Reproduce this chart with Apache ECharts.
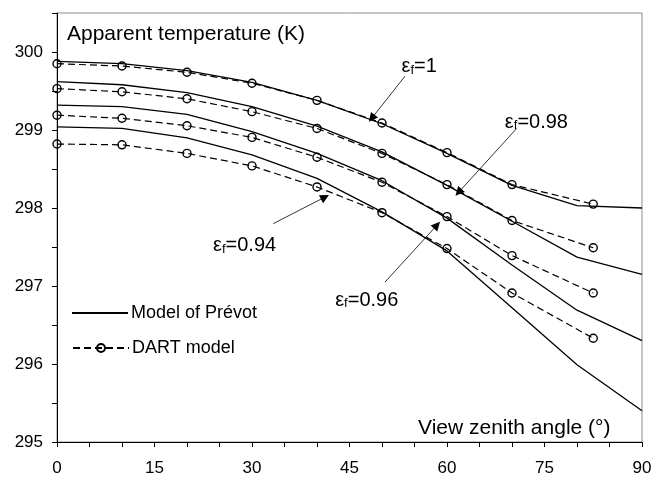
<!DOCTYPE html>
<html>
<head>
<meta charset="utf-8">
<script src="https://cdn.jsdelivr.net/npm/echarts@6/dist/echarts.min.js"></script>
<style>
  html, body { margin: 0; padding: 0; background: #fff; }
  #chart { width: 666px; height: 477px; }
</style>
</head>
<body>
<div id="chart"></div>
<script>
// View zenith angles (degrees)
const prevotAngles = [0, 10, 20, 30, 40, 50, 60, 70, 80, 90];
const dartAngles = [0, 10, 20, 30, 40, 50, 60, 70, 82.5];

// Apparent temperature (K) from the model of Prévot, one list per emissivity
const prevot100 = [299.88, 299.85, 299.76, 299.61, 299.38, 299.08, 298.70, 298.29, 298.03, 298.00];
const prevot098 = [299.62, 299.58, 299.48, 299.30, 299.05, 298.72, 298.29, 297.83, 297.37, 297.15];
const prevot096 = [299.32, 299.30, 299.20, 298.98, 298.70, 298.35, 297.87, 297.27, 296.69, 296.30];
const prevot094 = [299.04, 299.02, 298.90, 298.68, 298.38, 297.95, 297.45, 296.72, 295.99, 295.40];

// Apparent temperature (K) simulated with DART
const dart100 = [299.85, 299.82, 299.74, 299.60, 299.38, 299.09, 298.71, 298.30, 298.05];
const dart098 = [299.53, 299.49, 299.40, 299.235, 299.02, 298.70, 298.30, 297.84, 297.49];
const dart096 = [299.19, 299.15, 299.055, 298.905, 298.65, 298.33, 297.89, 297.39, 296.91];
const dart094 = [298.82, 298.81, 298.70, 298.54, 298.27, 297.94, 297.48, 296.91, 296.33];

// Emissivity labels with their arrows, in axis units (degrees, K)
const emissivityNotes = [
  { value: '1',    at: [53.0, 299.81], from: [53.54, 299.69], to: [48.42, 299.15] },
  { value: '0.98', at: [68.9, 299.10], from: [70.72, 299.02], to: [61.77, 298.20] },
  { value: '0.94', at: [24.0, 297.52], from: [33.28, 297.80], to: [41.23, 298.14] },
  { value: '0.96', at: [42.8, 296.82], from: [50.46, 297.05], to: [58.46, 297.78] }
];

const FONT = "'Liberation Sans', Arial, Helvetica, sans-serif";
const pair = (xs, ys) => xs.map((x, i) => [x, ys[i]]);

const prevotSeries = [prevot100, prevot098, prevot096, prevot094].map(vals => ({
  name: 'Model of Prévot',
  type: 'line',
  data: pair(prevotAngles, vals),
  symbol: 'none',
  itemStyle: { color: '#000' },
  lineStyle: { color: '#000', width: 1.3 },
  z: 2
}));

const dartSeries = [dart100, dart098, dart096, dart094].map(vals => ({
  name: 'DART model',
  type: 'line',
  data: pair(dartAngles, vals),
  symbol: 'circle',
  symbolSize: 8,
  lineStyle: { color: '#000', width: 1.2, type: [7, 4] },
  itemStyle: { color: 'rgba(255,255,255,0)', borderColor: '#000', borderWidth: 1.4 },
  z: 3
}));

const noteSeries = {
  name: 'notes',
  type: 'line',
  data: [],
  silent: true,
  itemStyle: { color: '#000' },
  markLine: {
    silent: true,
    symbol: ['none', 'triangle'],
    symbolSize: 9,
    label: { show: false },
    itemStyle: { color: '#000' },
    lineStyle: { color: '#000', width: 0.8, type: 'solid' },
    data: emissivityNotes.map(n => [{ coord: n.from }, { coord: n.to }])
  },
  markPoint: {
    silent: true,
    symbol: 'circle',
    symbolSize: 0,
    label: {
      show: true,
      position: 'right',
      distance: 0,
      formatter: p => '{e|ε}{s|f}{e|=' + p.name + '}',
      rich: {
        e: { fontSize: 20, fontFamily: FONT, color: '#000' },
        s: { fontSize: 13, fontFamily: FONT, color: '#000', verticalAlign: 'bottom' }
      }
    },
    data: emissivityNotes.map(n => ({ name: n.value, coord: n.at }))
  }
};

const legendBase = {
  orient: 'horizontal',
  left: 72,
  padding: 0,
  itemWidth: 56,
  itemGap: 0,
  selectedMode: false,
  textStyle: { fontSize: 18, fontFamily: FONT, color: '#000', padding: [0, 0, 0, -2] }
};

const option = {
  animation: false,
  backgroundColor: '#fff',
  title: [
    { text: 'Apparent temperature (K)', left: 67, top: 24, padding: 0,
      textStyle: { fontSize: 21, fontWeight: 'normal', fontFamily: FONT, color: '#000' } },
    { text: 'View zenith angle (°)', left: 418, top: 418, padding: 0,
      textStyle: { fontSize: 21, fontWeight: 'normal', fontFamily: FONT, color: '#000' } }
  ],
  legend: [
    Object.assign({}, legendBase, {
      top: 304, itemHeight: 2, icon: 'rect', data: ['Model of Prévot']
    }),
    Object.assign({}, legendBase, { top: 339, itemHeight: 10, data: ['DART model'] })
  ],
  grid: {
    left: 57, top: 13, width: 585, height: 429,
    show: true, borderColor: '#8c8c8c', borderWidth: 1, backgroundColor: 'transparent'
  },
  xAxis: {
    type: 'value',
    min: 0, max: 90, interval: 5,
    axisLine: { lineStyle: { color: '#000', width: 1 } },
    axisTick: { length: 5, lineStyle: { color: '#000' } },
    splitLine: { show: false },
    axisLabel: {
      margin: 18, fontSize: 17, fontFamily: FONT, color: '#000',
      formatter: v => (v % 15 === 0 ? String(v) : '')
    }
  },
  yAxis: {
    type: 'value',
    min: 295, max: 300.5, interval: 0.5,
    axisLine: { show: true, lineStyle: { color: '#000', width: 1 } },
    axisTick: { show: true, length: 5, lineStyle: { color: '#000' } },
    splitLine: { show: false },
    axisLabel: {
      margin: 14, fontSize: 17, fontFamily: FONT, color: '#000',
      formatter: v => (Number.isInteger(v) ? String(v) : '')
    }
  },
  series: [...prevotSeries, ...dartSeries, noteSeries]
};

const chart = echarts.init(document.getElementById('chart'), null, { renderer: 'canvas' });
chart.setOption(option);
</script>
</body>
</html>
